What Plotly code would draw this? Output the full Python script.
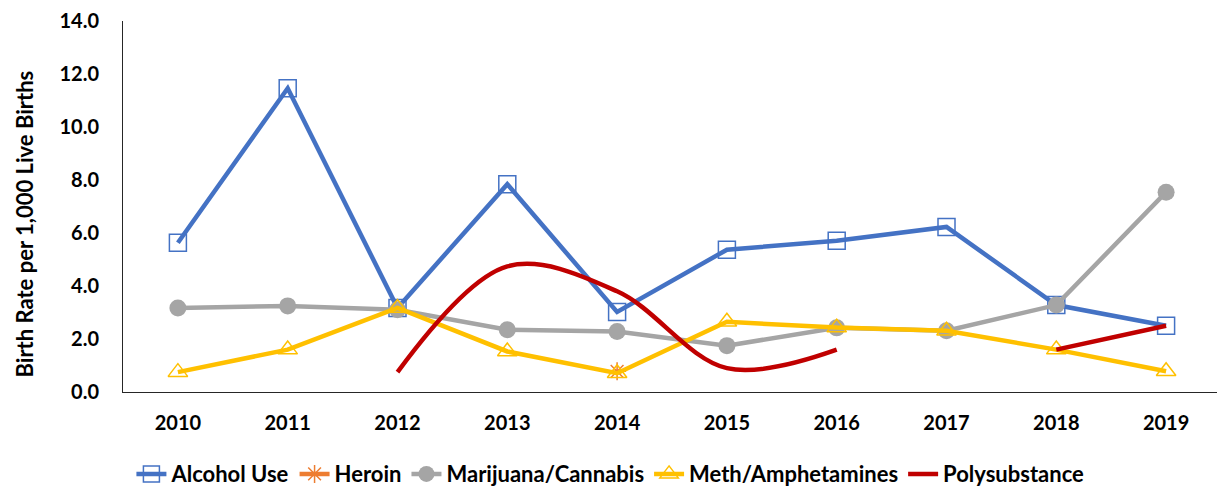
import plotly.graph_objects as go

years = ["2010", "2011", "2012", "2013", "2014", "2015", "2016", "2017", "2018", "2019"]
alcohol = [5.63, 11.46, 3.17, 7.84, 3.02, 5.37, 5.71, 6.23, 3.28, 2.50]
heroin = [None, None, None, None, 0.78, None, None, None, None, None]
marijuana = [3.17, 3.25, 3.10, 2.35, 2.28, 1.75, 2.42, 2.31, 3.28, 7.54]
meth = [0.75, 1.60, 3.17, 1.53, 0.71, 2.65, 2.43, 2.31, 1.60, 0.78]
poly = [None, None, 0.75, 4.74, 3.80, 0.90, 1.60, None, 1.60, 2.50]
y_title = "Birth Rate per 1,000 Live Births"

FONT = "Lato, 'Liberation Sans', sans-serif"

fig = go.Figure()
fig.add_trace(go.Scatter(
    x=years, y=alcohol, name="Alcohol Use", mode="lines+markers",
    line=dict(color="#4472C4", width=4.5),
    marker=dict(symbol="square-open", size=17, color="#4472C4", line=dict(width=1.5, color="#4472C4")),
))
fig.add_trace(go.Scatter(
    x=years, y=heroin, name="Heroin", mode="lines+markers",
    line=dict(color="#ED7D31", width=4.5),
    marker=dict(symbol="asterisk-open", size=15, color="#ED7D31", line=dict(width=1.5, color="#ED7D31")),
))
fig.add_trace(go.Scatter(
    x=years, y=marijuana, name="Marijuana/Cannabis", mode="lines+markers",
    line=dict(color="#A5A5A5", width=4.5),
    marker=dict(symbol="circle", size=17, color="#A5A5A5"),
))
fig.add_trace(go.Scatter(
    x=years, y=meth, name="Meth/Amphetamines", mode="lines+markers",
    line=dict(color="#FFC000", width=4.5),
    marker=dict(symbol="triangle-up-open", size=17, color="#FFC000", line=dict(width=1.5, color="#FFC000")),
))
fig.add_trace(go.Scatter(
    x=years, y=poly, name="Polysubstance", mode="lines",
    line=dict(color="#C00000", width=4.5, shape="spline", smoothing=1.0),
    connectgaps=False,
))

# page body adds an 8px offset; size the figure to compensate
fig.update_layout(
    width=1217, height=483,
    paper_bgcolor="white", plot_bgcolor="white",
    margin=dict(l=115, r=4, t=13, b=99),
    font=dict(family=FONT, color="black", size=20),
    showlegend=True,
    legend=dict(
        orientation="h", xref="container", yref="container",
        x=0.495, xanchor="center", y=0.035, yanchor="middle",
        font=dict(family=FONT, size=22, color="black", weight="bold"),
        itemwidth=30, traceorder="normal",
    ),
    xaxis=dict(
        type="category", range=[-0.5, 9.5], automargin=False,
        showline=True, linecolor="#262626", linewidth=1,
        showgrid=False, zeroline=False, ticks="",
        tickfont=dict(family=FONT, size=20, color="black", weight="bold"),
        ticklabelstandoff=13,
    ),
    yaxis=dict(
        range=[0, 14], dtick=2, tickformat=".1f", automargin=False,
        showline=True, linecolor="#262626", linewidth=1,
        showgrid=False, zeroline=False, ticks="",
        tickfont=dict(family=FONT, size=20, color="black", weight="bold"),
        ticklabelstandoff=19, ticklabeloverflow="allow",
    ),
    annotations=[dict(
        text=y_title, textangle=-90, showarrow=False,
        xref="paper", yref="paper", x=0, y=0.5,
        xanchor="center", yanchor="middle", xshift=-99, yshift=-18,
        font=dict(family=FONT, size=22, color="black", weight="bold"),
    )],
)

fig.write_html("out.html")
